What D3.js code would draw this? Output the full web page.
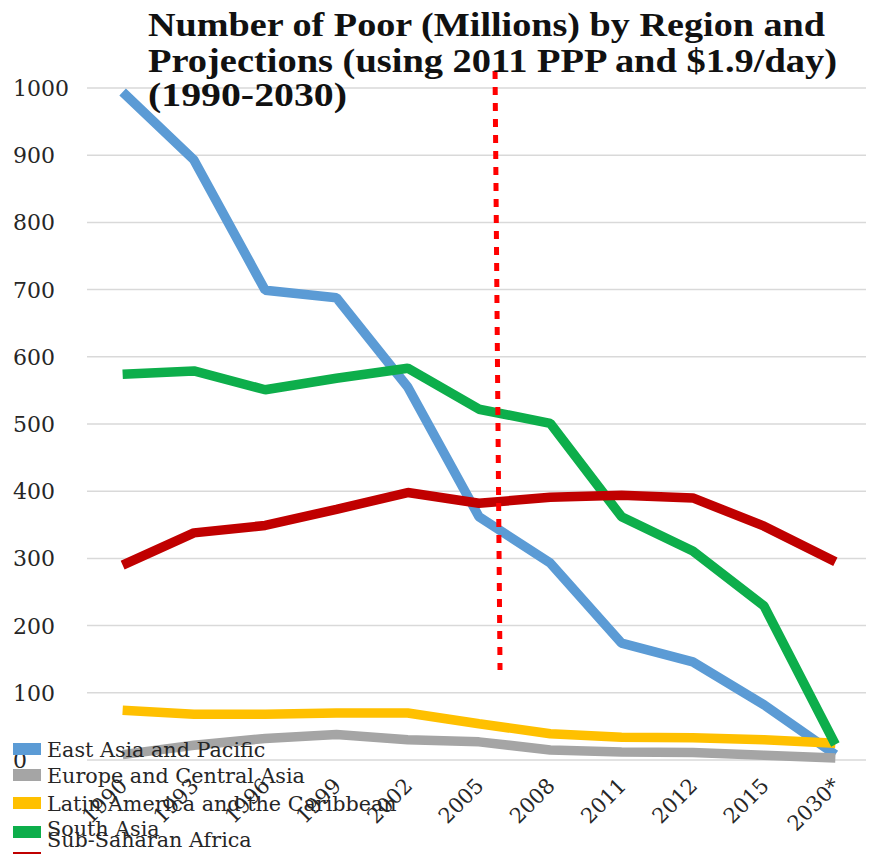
<!DOCTYPE html>
<html>
<head>
<meta charset="utf-8">
<script src="https://cdn.jsdelivr.net/npm/d3@7"></script>
<style>
  html, body { margin: 0; padding: 0; background: #ffffff; }
  svg { display: block; }
</style>
</head>
<body>
<svg id="chart" width="869" height="854"></svg>
<script>
// Survey years (2030 is a projection)
const years = ["1990", "1993", "1996", "1999", "2002", "2005", "2008", "2011", "2012", "2015", "2030*"];

// Number of poor, millions, by region
const eastAsiaPacific   = [994, 893, 699, 688, 555, 362, 293, 174, 146, 82, 8];
const europeCentralAsia = [8, 22, 32, 38, 30, 27, 15, 12, 11, 7, 3];
const latinAmerica      = [74, 68, 68, 70, 70, 54, 39, 34, 33, 30, 25];
const southAsia         = [574, 579, 551, 568, 583, 522, 501, 362, 311, 229, 23];
const subSaharanAfrica  = [290, 338, 349, 373, 398, 382, 391, 394, 390, 348, 295];

const seriesNames  = ["East Asia and Pacific", "Europe and Central Asia", "Latin America and the Caribbean", "South Asia", "Sub-Saharan Africa"];
const seriesValues = [eastAsiaPacific, europeCentralAsia, latinAmerica, southAsia, subSaharanAfrica];
const seriesColors = ["#5B9BD5", "#A5A5A5", "#FFC000", "#0DAE4B", "#C00000"];

const yTicks = [0, 100, 200, 300, 400, 500, 600, 700, 800, 900, 1000];

const titleLines = [
  "Number of Poor (Millions) by Region and",
  "Projections (using 2011 PPP and $1.9/day)",
  "(1990-2030)"
];

const svg = d3.select("#chart");
const serif = "'DejaVu Serif', 'Liberation Serif', serif";

const plot = { left: 87, right: 871, top: 88, bottom: 760 };

const x = d3.scalePoint().domain(years).range([plot.left, plot.right]).padding(0.5);
const y = d3.scaleLinear().domain([0, 1000]).range([plot.bottom, plot.top]);

// Horizontal gridlines
svg.append("g").selectAll("line")
  .data(yTicks)
  .join("line")
  .attr("x1", plot.left).attr("x2", 866)
  .attr("y1", d => y(d)).attr("y2", d => y(d))
  .attr("stroke", "#D9D9D9").attr("stroke-width", 1.5);

// Y tick labels, left aligned
svg.append("g").selectAll("text")
  .data(yTicks)
  .join("text")
  .attr("x", 13)
  .attr("y", d => y(d) + 8)
  .attr("font-family", serif)
  .attr("font-size", 22)
  .attr("fill", "#262626")
  .text(d => d);

// Series lines
const line = d3.line()
  .x((d, i) => x(years[i]))
  .y(d => y(d));

svg.append("g").selectAll("path")
  .data(seriesValues)
  .join("path")
  .attr("d", d => line(d))
  .attr("fill", "none")
  .attr("stroke", (d, i) => seriesColors[i])
  .attr("stroke-width", 9.5)
  .attr("stroke-linejoin", "bevel")
  .attr("stroke-linecap", "butt");

// Dotted marker separating observed years from the projection period
const step = x.step();
svg.append("line")
  .attr("x1", x("2005") + step * 0.225).attr("y1", 71)
  .attr("x2", x("2005") + step * 0.295).attr("y2", 670)
  .attr("stroke", "#FF0000")
  .attr("stroke-width", 5)
  .attr("stroke-dasharray", "8 8");

// Legend (bottom left, over the plot)
const legendRows = [
  { swatchY: 743, textY: 757 },
  { swatchY: 769, textY: 783 },
  { swatchY: 797, textY: 811 },
  { swatchY: 826, textY: 836 },
  { swatchY: 852, textY: 847 }
];
const legend = svg.append("g");
legend.selectAll("rect")
  .data(seriesNames)
  .join("rect")
  .attr("x", 13).attr("y", (d, i) => legendRows[i].swatchY)
  .attr("width", 28).attr("height", 12)
  .attr("fill", (d, i) => seriesColors[i]);
legend.selectAll("text")
  .data(seriesNames)
  .join("text")
  .attr("x", 47).attr("y", (d, i) => legendRows[i].textY)
  .attr("font-family", serif)
  .attr("font-size", 20.7)
  .attr("fill", "#262626")
  .text(d => d);

// X tick labels, rotated
svg.append("g").selectAll("text")
  .data(years)
  .join("text")
  .attr("transform", d => `translate(${x(d) + 6},${787}) rotate(-45)`)
  .attr("text-anchor", "end")
  .attr("font-family", serif)
  .attr("font-size", 21)
  .attr("fill", "#262626")
  .text(d => d);

// Title, three lines
const titleWidths = [677, 689, 199];
svg.append("g").selectAll("text")
  .data(titleLines)
  .join("text")
  .attr("x", 148)
  .attr("y", (d, i) => [36, 72, 106][i])
  .attr("font-family", "'Liberation Serif', serif")
  .attr("font-weight", "bold")
  .attr("font-size", 33)
  .attr("textLength", (d, i) => titleWidths[i])
  .attr("lengthAdjust", "spacingAndGlyphs")
  .attr("fill", "#111111")
  .text(d => d);
</script>
</body>
</html>
